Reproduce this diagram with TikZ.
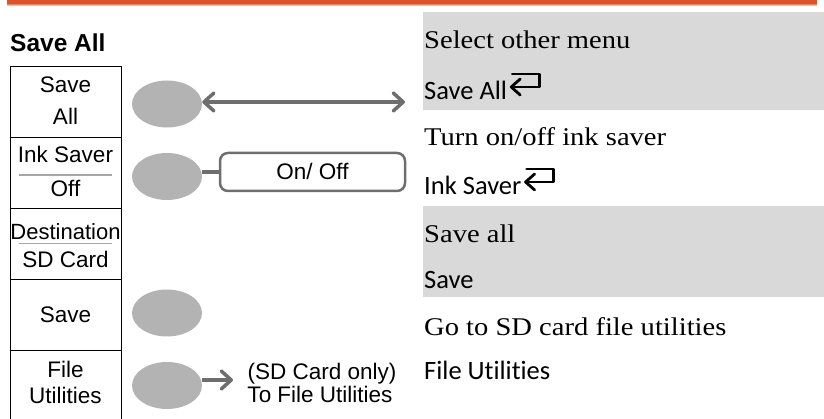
\documentclass[tikz,border=0pt]{standalone}
\usepackage{fontspec}
\usetikzlibrary{arrows.meta,shapes.geometric}
\newfontfamily\arialf{Liberation Sans}
\newfontfamily\gillf[Ligatures={NoCommon}]{Carlito}
\newfontfamily\palaf[FakeStretch=1.12]{Liberation Serif}
\definecolor{orA}{HTML}{E0522B}
\definecolor{orB}{HTML}{EC8656}
\definecolor{orC}{HTML}{F6BE98}
\definecolor{knobgray}{HTML}{B3B3B3}
\definecolor{conngray}{HTML}{6E6E6E}
\definecolor{sepgray}{HTML}{A6A6A6}
\definecolor{bandgray}{HTML}{D9D9D9}
\begin{document}
\begin{tikzpicture}[x=1pt,y=-1pt,
  menubox/.style={draw=black, line width=1.3pt, minimum width=111pt, minimum height=71pt, inner sep=0pt, anchor=north west},
  btxt/.style={font=\arialf\fontsize{22.5}{26}\selectfont, anchor=base, inner sep=0pt},
  knob/.style={ellipse, fill=knobgray, minimum width=70pt, minimum height=47pt, inner sep=0pt},
  conn/.style={draw=conngray, line width=3.5pt},
  barb/.tip={Straight Barb[length=10pt,width=18pt,round]},
  sepline/.style={draw=sepgray, line width=1.5pt},
  rtxt/.style={font=\palaf\fontsize{25.5}{30}\selectfont, anchor=base west, inner sep=0pt},
  stxt/.style={font=\gillf\fontsize{26.5}{30}\selectfont, anchor=base west, inner sep=0pt},
  retsym/.style={draw=black, line width=2.8pt, line cap=round, line join=round}
]
\useasboundingbox (0,0) rectangle (824,419);
% top bar
\fill[orA] (7,0) rectangle (817,3.6);
\fill[orB] (7,3.6) rectangle (817,5);
\fill[orC] (7,5) rectangle (817,6.2);
% grey bands
\fill[bandgray] (423,12) rectangle (824,110);
\fill[bandgray] (423,206) rectangle (824,297);
% heading
\node[font=\arialf\bfseries\fontsize{24.5}{28}\selectfont, anchor=base west, inner sep=0pt] (head) at (10,51.7) {Save All};
% menu boxes
\node[menubox] (r1) at (10,66) {};
\node[menubox] (r2) at (10,137) {};
\node[menubox] (r3) at (10,208) {};
\node[menubox] (r4) at (10,279) {};
\node[menubox] (r5) at (10,350) {};
\node[btxt] (t1a) at (65.5,93) {Save};
\node[btxt] (t1b) at (65.5,125) {All};
\node[btxt] (t2a) at (65.5,163) {Ink Saver};
\draw[sepline] (19,175) -- (112,175);
\node[btxt] (t2b) at (65.5,197) {Off};
\node[btxt, font=\arialf\fontsize{22}{26}\selectfont] (t3a) at (65.5,240) {Destination};
\draw[sepline] (19,243.5) -- (112,243.5);
\node[btxt] (t3b) at (65.5,268) {SD Card};
\node[btxt] (t4a) at (65.5,323) {Save};
\node[btxt] (t5a) at (65.5,377) {File};
\node[btxt] (t5b) at (65.5,403) {Utilities};
% knobs
\node[knob] (k1) at (167,104) {};
\node[knob] (k2) at (167,176.5) {};
\node[knob] (k4) at (167,313) {};
\node[knob] (k5) at (167,385.5) {};
% double arrow
\coordinate (a1) at (405,102);
\draw[conn, barb-barb] (k1.east |- a1) -- (a1);
% on/off
\node[draw=conngray, line width=2.5pt, rounded corners=8pt, minimum width=185pt, minimum height=38pt, inner sep=0pt, text height=16pt, text depth=0pt, font=\arialf\fontsize{22.5}{26}\selectfont] (oo) at (312.5,172) {On/ Off};
\draw[conn] (k2.east |- oo.west) -- (oo.west);
% file utilities
\coordinate (f5) at (233,380);
\draw[conn, -barb] (k5.east |- f5) -- (f5);
\node[btxt] (fu1) at (322,379) {(SD Card only)};
\node[btxt] (fu2) at (320,402) {To File Utilities};
% right column
\node[rtxt] (d1) at (424,48.3) {Select other menu};
\node[stxt] (s1) at (424,100) {Save All};
\draw[retsym] (s1.base east) ++(13,-21) -- ++(-9,8) -- ++(9,8);
\draw[retsym] (s1.base east) ++(4,-13) -- ++(28,0) -- ++(0,-13) -- ++(-27,0);
\node[rtxt] (d2) at (424,145.7) {Turn on/off ink saver};
\node[stxt] (s2) at (424,195) {Ink Saver};
\draw[retsym] (s2.base east) ++(13,-21) -- ++(-9,8) -- ++(9,8);
\draw[retsym] (s2.base east) ++(4,-13) -- ++(28,0) -- ++(0,-13) -- ++(-27,0);
\node[rtxt] (d3) at (424,242.3) {Save all};
\node[stxt] (s3) at (424,288.3) {Save};
\node[rtxt] (d4) at (424,335) {Go to SD card file utilities};
\node[stxt] (s4) at (424,379) {File Utilities};
\end{tikzpicture}
\end{document}
